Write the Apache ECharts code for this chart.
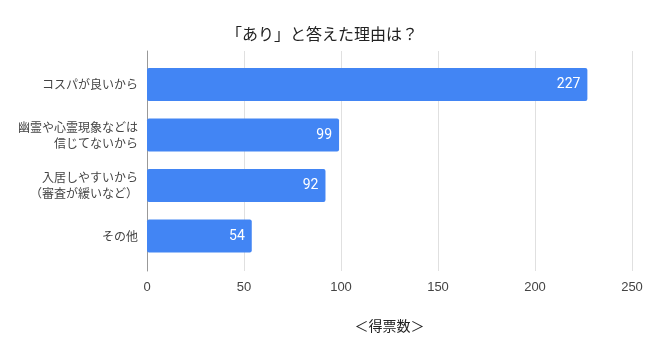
<!DOCTYPE html>
<html>
<head>
<meta charset="utf-8">
<script src="https://cdn.jsdelivr.net/npm/echarts@6/dist/echarts.min.js"></script>
<style>html,body{margin:0;padding:0;background:#fff}#c{width:650px;height:352px}</style>
</head>
<body>
<div id="c"></div>
<script>
const titleText = '「あり」と答えた理由は？';
const categories = ['コスパが良いから', '幽霊や心霊現象などは\n信じてないから', '入居しやすいから\n（審査が緩いなど）', 'その他'];
const votes = [227, 99, 92, 54];
const axisName = '＜得票数＞';
const xMin = 0, xMax = 250, xStep = 50;

const FONT = "Arial, 'Liberation Sans', 'Noto Sans CJK JP', sans-serif";
const chart = echarts.init(document.getElementById('c'), null, {renderer: 'canvas'});
chart.setOption({
  animation: false,
  title: {
    text: titleText, left: 317, top: 21, textAlign: 'center',
    textStyle: {fontSize: 16, fontWeight: 'normal', color: '#222', fontFamily: "'Noto Sans CJK JP', sans-serif"}
  },
  grid: [
    {left: 147, right: 18, top: 59.25, bottom: 90.75},
    {left: 147, right: 18, top: 51, bottom: 81}
  ],
  xAxis: [
    {gridIndex: 0, type: 'value', min: xMin, max: xMax, interval: xStep,
     axisLine: {show: false}, axisTick: {show: false}, axisLabel: {show: false}, splitLine: {show: false}},
    {gridIndex: 1, type: 'value', min: xMin, max: xMax, interval: xStep,
     name: axisName, nameLocation: 'middle', nameGap: 48,
     nameTextStyle: {fontSize: 14, color: '#222', fontFamily: "'Noto Sans CJK JP', sans-serif"},
     axisLine: {show: false}, axisTick: {show: false},
     axisLabel: {margin: 10, fontSize: 13, color: '#444', fontFamily: FONT},
     splitLine: {show: true, lineStyle: {color: '#e0e0e0', width: 1}}}
  ],
  yAxis: [
    {gridIndex: 0, type: 'category', data: categories, inverse: true,
     axisLine: {show: false}, axisTick: {show: false},
     axisLabel: {margin: 9, fontSize: 12, lineHeight: 16, color: '#444', fontFamily: "'Noto Sans CJK JP', sans-serif", align: 'right'}},
    {gridIndex: 1, type: 'value', min: 0, max: 1,
     axisLine: {show: true, lineStyle: {color: '#999', width: 1}}, axisTick: {show: false},
     axisLabel: {show: false}, splitLine: {show: false}}
  ],
  series: [{
    type: 'bar', xAxisIndex: 0, yAxisIndex: 0, data: votes, barWidth: 33,
    itemStyle: {color: '#4285F4', borderRadius: 2},
    label: {show: true, position: 'insideRight', distance: 7, color: '#fff', fontSize: 14, fontFamily: "Roboto, Arial, sans-serif"},
    z: 3
  }]
});
</script>
</body>
</html>
